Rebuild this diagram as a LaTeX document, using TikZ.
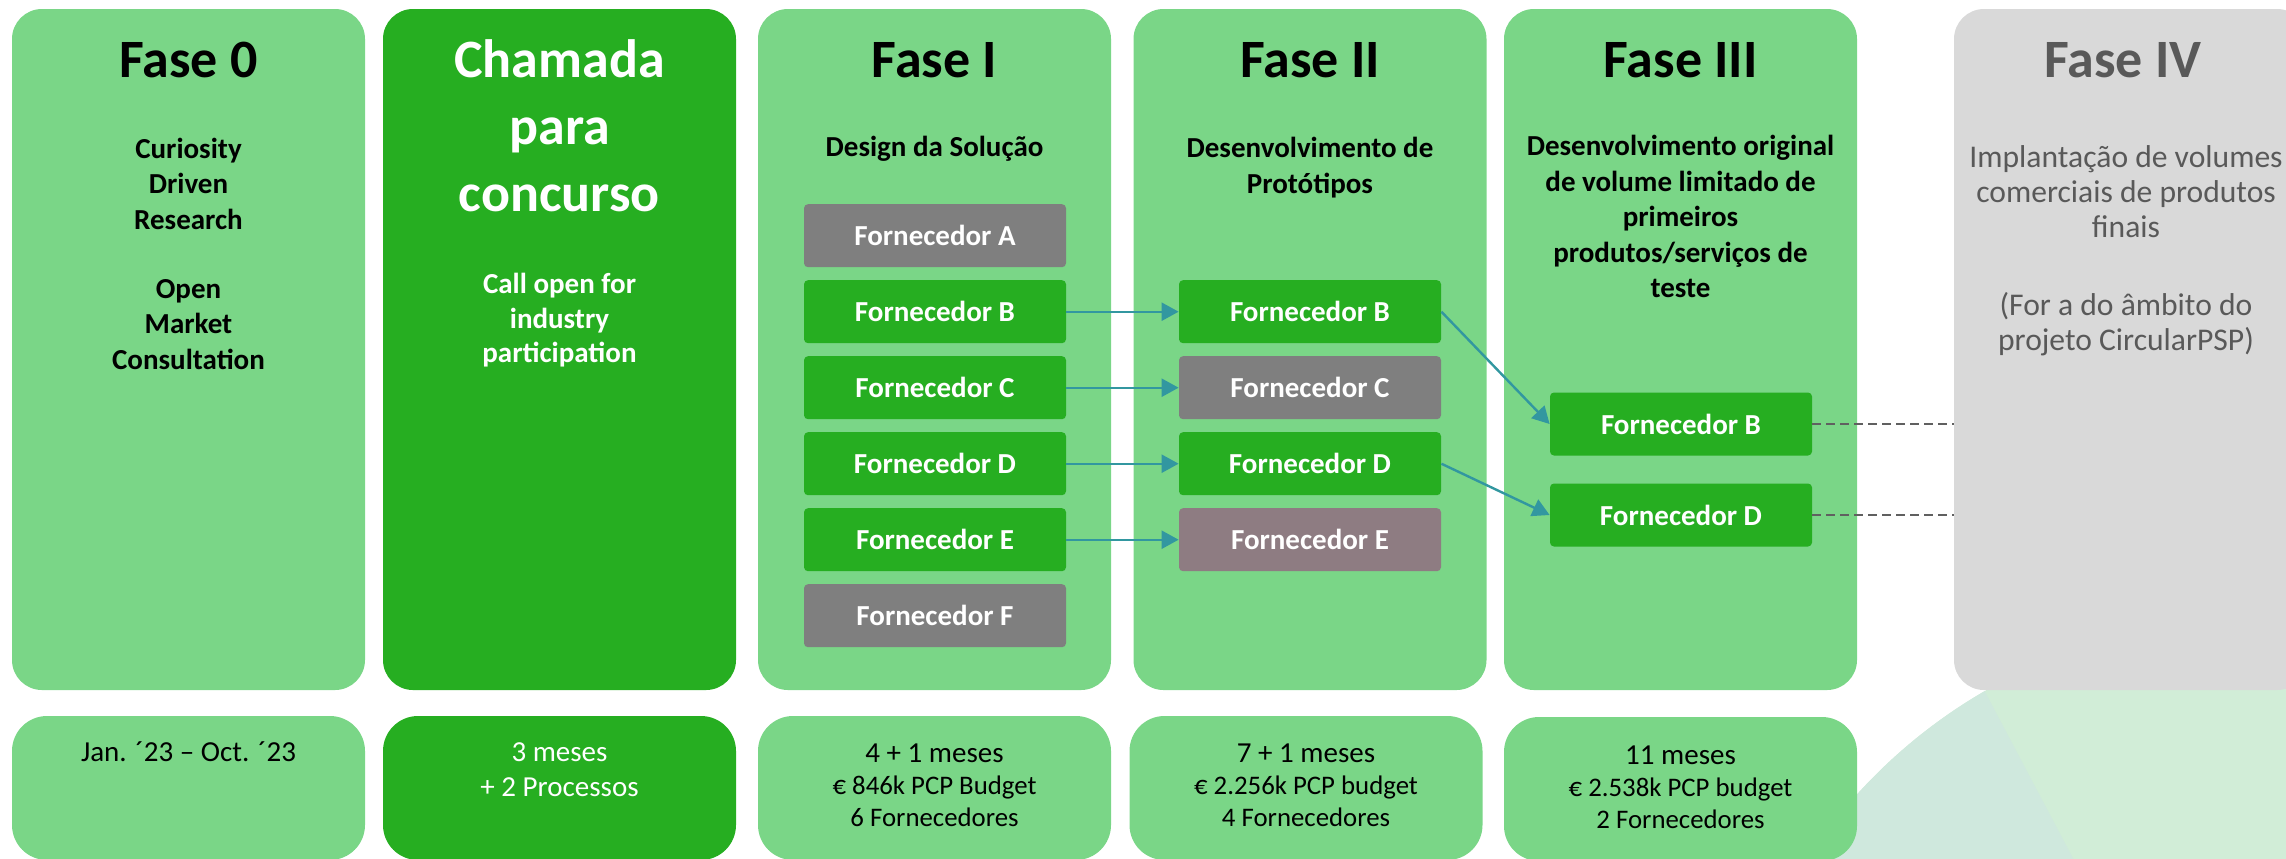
\documentclass[tikz,border=0pt]{standalone}
\usepackage{fontspec}
\setmainfont{Carlito}
\usepackage{tikz}
\usetikzlibrary{positioning, arrows.meta}

\definecolor{fasegreen}{RGB}{122,214,135}
\definecolor{callgreen}{RGB}{38,174,33}
\definecolor{fgray}{RGB}{127,127,127}
\definecolor{fmauve}{RGB}{142,124,130}
\definecolor{offgray}{RGB}{217,217,217}
\definecolor{offtext}{RGB}{89,89,89}
\definecolor{linkteal}{RGB}{50,151,160}
\definecolor{dashgray}{RGB}{96,96,96}
\definecolor{bgmint}{RGB}{209,237,215}
\definecolor{bgsea}{RGB}{207,232,221}

\newcommand{\pcpsize}{\fontsize{13.4}{16}\selectfont}

\begin{document}
\begin{tikzpicture}[x=.5pt, y=-.5pt, node distance=38pt]
        \tikzstyle{panel}=[rectangle, rounded corners=15pt, minimum width=176.5pt, minimum height=340.5pt, inner sep=0pt];
        \tikzstyle{foot}=[rectangle, rounded corners=17.5pt, minimum width=176.5pt, minimum height=72pt, inner sep=0pt];
        \tikzstyle{head}=[anchor=base, align=center, inner sep=0pt, font=\bfseries\fontsize{27}{33.5}\selectfont];
        \tikzstyle{sub}=[anchor=base, align=center, inner sep=0pt, font=\bfseries\fontsize{14.5}{17.75}\selectfont];
        \tikzstyle{note}=[anchor=base, align=center, inner sep=0pt, font=\fontsize{14.5}{16}\selectfont];
        \tikzstyle{forn}=[rectangle, rounded corners=2pt, minimum width=131pt, minimum height=31.5pt, inner sep=0pt, fill=callgreen, text=white, font=\bfseries\fontsize{14.5}{17}\selectfont];
        \tikzstyle{link}=[linkteal, line width=1.2pt, -{Triangle[length=8.5pt, width=9pt]}];
        \tikzstyle{later}=[dashgray, line width=1.3pt, dash pattern=on 4.5pt off 2.5pt];

        \useasboundingbox (0,0) rectangle (2286,858);
        \clip (0,0) rectangle (2286,858);

        % background disc
        \fill[bgmint] (2250,1150) circle[radius=265pt];
        \begin{scope}
          \clip (2250,1150) circle[radius=265pt];
          \fill[bgsea] (1910,550) -- (2121.5,950) -- (1600,950) -- (1600,550) -- cycle;
        \end{scope}

        % phase columns
        \node[panel, fill=fasegreen] (f0) at (188.5,349.5) {};
        \node[panel, fill=callgreen] (call) at (559.5,349.5) {};
        \node[panel, fill=fasegreen] (f1) at (934.5,349.5) {};
        \node[panel, fill=fasegreen] (f2) at (1310,349.5) {};
        \node[panel, fill=fasegreen] (f3) at (1680.5,349.5) {};
        \node[panel, fill=offgray] (f4) at (2130.5,349.5) {};

        \node[foot, fill=fasegreen] (t0) at (188.5,788) {};
        \node[foot, fill=callgreen] (tcall) at (559.5,788) {};
        \node[foot, fill=fasegreen] (t1) at (934.5,788) {};
        \node[foot, fill=fasegreen] (t2) at (1306,788) {};
        \node[foot, fill=fasegreen] (t3) at (1680.5,789) {};

        % multi-line nodes sit on their last baseline
        \node[head] (h0) at (188.5,77) {Fase 0};
        \node[head, text=white] (hcall) at (559.5,211) {Chamada\\para\\concurso};
        \node[head] (h1) at (934.5,77) {Fase I};
        \node[head] (h2) at (1310,77) {Fase II};
        \node[head] (h3) at (1680.5,77) {Fase III};
        \node[head, text=offtext] (h4) at (2123,77) {Fase IV};

        \node[sub] (s0) at (188.5,369.3) {Curiosity\\Driven\\Research\\[16.75pt]Open\\Market\\Consultation};
        \node[sub, text=white, font=\bfseries\fontsize{14.5}{17.35}\selectfont] (scall) at (559.5,362.7) {Call open for\\industry\\participation};
        \node[sub] (s1) at (934.5,156.7) {Design da Solução};
        \node[sub] (s2) at (1310,193) {Desenvolvimento de\\Protótipos};
        \node[sub] (s3) at (1680.5,297.7) {Desenvolvimento original\\de volume limitado de\\primeiros\\produtos/serviços de\\teste};
        \node[sub, text=offtext, font=\fontsize{15.8}{17.4}\selectfont] (s4) at (2126,350) {Implantação de volumes\\comerciais de produtos\\finais\\[21.5pt](For a do âmbito do\\projeto CircularPSP)};

        \node[note] (n0) at (188.5,761.7) {Jan. ´23 – Oct. ´23};
        \node[note, text=white, font=\fontsize{14.5}{17.5}\selectfont] (ncall) at (559.5,796.7) {3 meses\\+ 2 Processos};
        \node[note] (n1) at (934.5,826) {4 + 1 meses\\{\pcpsize € 846k PCP Budget}\\{\pcpsize 6 Fornecedores}};
        \node[note] (n2) at (1306,826) {7 + 1 meses\\{\pcpsize € 2.256k PCP budget}\\{\pcpsize 4 Fornecedores}};
        \node[note] (n3) at (1680.5,828.3) {11 meses\\{\pcpsize € 2.538k PCP budget}\\{\pcpsize 2 Fornecedores}};

        % suppliers
        \node[forn, fill=fgray] (a1) at (935,235.7) {Fornecedor A};
        \node[forn, below of=a1] (b1) {Fornecedor B};
        \node[forn, below of=b1] (c1) {Fornecedor C};
        \node[forn, below of=c1] (d1) {Fornecedor D};
        \node[forn, below of=d1] (e1) {Fornecedor E};
        \node[forn, below of=e1, fill=fgray] (g1) {Fornecedor F};

        \node[forn] (b2) at (1310,311.7) {Fornecedor B};
        \node[forn, below of=b2, fill=fgray] (c2) {Fornecedor C};
        \node[forn, below of=c2] (d2) {Fornecedor D};
        \node[forn, below of=d2, fill=fmauve] (e2) {Fornecedor E};

        \node[forn] (b3) at (1681,424) {Fornecedor B};
        \node[forn, below of=b3, yshift=-7.5pt] (d3) {Fornecedor D};

        \path[link]
        (b1) edge (b2)
        (c1) edge (c2)
        (d1) edge (d2)
        (e1) edge (e2)
        (b2.east) edge (b3.west)
        (d2.east) edge (d3.west);

        \path[later]
        (b3.east) edge (b3.east -| f4.west)
        (d3.east) edge (d3.east -| f4.west);
\end{tikzpicture}
\end{document}
